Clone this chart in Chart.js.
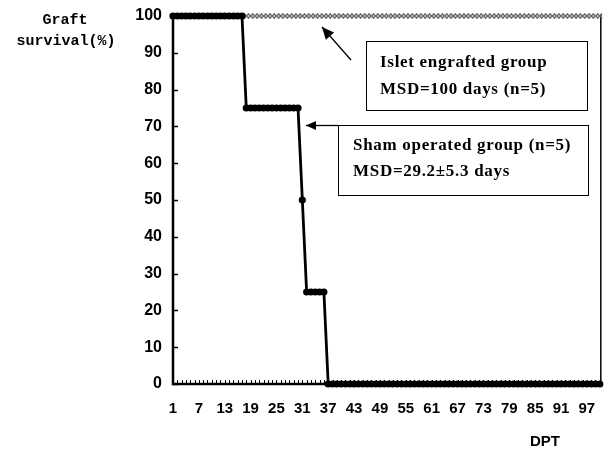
<!DOCTYPE html>
<html>
<head>
<meta charset="utf-8">
<script src="https://cdn.jsdelivr.net/npm/chart.js@4/dist/chart.umd.min.js"></script>
<style>
  html, body { margin: 0; padding: 0; background: #fff; }
  #wrap { width: 605px; height: 450px; position: relative; }
</style>
</head>
<body>
<div id="wrap"><canvas id="c" width="605" height="450"></canvas></div>
<script>
// Days post transplantation (DPT), 1..100
const days = [];
for (let d = 1; d <= 100; d++) days.push(d);

// Percent graft survival per day
const shamSurvival = [
  100,100,100,100,100,100,100,100,100,100,
  100,100,100,100,100,100,100, 75, 75, 75,
   75, 75, 75, 75, 75, 75, 75, 75, 75, 75,
   50, 25, 25, 25, 25, 25,  0,  0,  0,  0,
    0,  0,  0,  0,  0,  0,  0,  0,  0,  0,
    0,  0,  0,  0,  0,  0,  0,  0,  0,  0,
    0,  0,  0,  0,  0,  0,  0,  0,  0,  0,
    0,  0,  0,  0,  0,  0,  0,  0,  0,  0,
    0,  0,  0,  0,  0,  0,  0,  0,  0,  0,
    0,  0,  0,  0,  0,  0,  0,  0,  0,  0
];
const isletSurvival = [
  100,100,100,100,100,100,100,100,100,100,
  100,100,100,100,100,100,100,100,100,100,
  100,100,100,100,100,100,100,100,100,100,
  100,100,100,100,100,100,100,100,100,100,
  100,100,100,100,100,100,100,100,100,100,
  100,100,100,100,100,100,100,100,100,100,
  100,100,100,100,100,100,100,100,100,100,
  100,100,100,100,100,100,100,100,100,100,
  100,100,100,100,100,100,100,100,100,100,
  100,100,100,100,100,100,100,100,100,100
];

// Axis tick labels
const xTickLabels = [1, 7, 13, 19, 25, 31, 37, 43, 49, 55, 61, 67, 73, 79, 85, 91, 97];
const yTickLabels = [0, 10, 20, 30, 40, 50, 60, 70, 80, 90, 100];

const toPoints = vals => days.map((d, i) => ({ x: d, y: vals[i] }));

const serifBold = 'bold 17px "Liberation Serif", "DejaVu Serif", serif';

function arrow(ctx, x1, y1, x2, y2, L, W) {
  ctx.beginPath();
  ctx.moveTo(x1, y1);
  ctx.lineTo(x2, y2);
  ctx.stroke();
  const a = Math.atan2(y2 - y1, x2 - x1);
  ctx.beginPath();
  ctx.moveTo(x2, y2);
  ctx.lineTo(x2 - L * Math.cos(a) + W * Math.sin(a), y2 - L * Math.sin(a) - W * Math.cos(a));
  ctx.lineTo(x2 - L * Math.cos(a) - W * Math.sin(a), y2 - L * Math.sin(a) + W * Math.cos(a));
  ctx.closePath();
  ctx.fill();
}

const decorations = {
  id: 'decorations',
  beforeDatasetsDraw(chart) {
    const { ctx, chartArea: a, scales: { x, y } } = chart;
    ctx.save();
    ctx.strokeStyle = '#000';
    // inward ticks on the y axis
    ctx.lineWidth = 1.5;
    yTickLabels.forEach(v => {
      const py = Math.round(y.getPixelForValue(v)) + 0.5;
      ctx.beginPath(); ctx.moveTo(a.left, py); ctx.lineTo(a.left + 5, py); ctx.stroke();
    });
    // one small tick per day along the x axis
    ctx.lineWidth = 1;
    days.forEach(d => {
      const px = Math.round(x.getPixelForValue(d)) + 0.5;
      ctx.beginPath(); ctx.moveTo(px, a.bottom); ctx.lineTo(px, a.bottom - 4); ctx.stroke();
    });
    // axes and right border
    ctx.lineWidth = 2.5;
    ctx.beginPath();
    ctx.moveTo(a.left, a.top); ctx.lineTo(a.left, a.bottom); ctx.lineTo(a.right, a.bottom);
    ctx.stroke();
    ctx.lineWidth = 1.5;
    ctx.beginPath(); ctx.moveTo(a.right + 1, a.top - 2); ctx.lineTo(a.right + 1, a.bottom); ctx.stroke();
    ctx.restore();
  },
  afterDraw(chart) {
    const { ctx } = chart;
    ctx.save();
    // axis titles
    ctx.fillStyle = '#000';
    ctx.font = 'bold 15px "Liberation Mono", "DejaVu Sans Mono", monospace';
    ctx.textAlign = 'center';
    ctx.textBaseline = 'middle';
    ctx.fillText('Graft', 65, 20);
    ctx.fillText('survival(%)', 66, 41);
    ctx.font = 'bold 15px "Liberation Sans", Arial, sans-serif';
    ctx.fillText('DPT', 545, 442);

    // annotation boxes
    ctx.lineWidth = 1;
    ctx.strokeStyle = '#000';
    ctx.fillStyle = '#fff';
    ctx.fillRect(366, 41, 221, 69);
    ctx.strokeRect(366.5, 41.5, 221, 69);
    ctx.fillRect(338, 125, 250, 70);
    ctx.strokeRect(338.5, 125.5, 250, 70);

    ctx.fillStyle = '#000';
    ctx.font = serifBold;
    ctx.letterSpacing = '0.7px';
    ctx.textAlign = 'left';
    ctx.textBaseline = 'middle';
    ctx.fillText('Islet engrafted group', 380, 63);
    ctx.fillText('MSD=100 days (n=5)', 380, 90);
    ctx.fillText('Sham operated group (n=5)', 353, 146);
    ctx.fillText('MSD=29.2\u00b15.3 days', 353, 172);
    ctx.letterSpacing = '0px';

    // pointers
    ctx.lineWidth = 1.3;
    arrow(ctx, 351, 60, 322, 27, 12, 5.5);
    arrow(ctx, 338, 125.5, 306, 125.5, 10, 4.5);
    ctx.restore();
  }
};

new Chart(document.getElementById('c'), {
  type: 'line',
  data: {
    datasets: [
      {
        label: 'Sham operated group',
        data: toPoints(shamSurvival),
        borderColor: '#000',
        backgroundColor: '#000',
        borderWidth: 2.8,
        pointStyle: 'circle',
        pointRadius: 3.6,
        pointBorderWidth: 0,
        tension: 0,
        clip: 10,
        order: 0
      },
      {
        label: 'Islet engrafted group',
        data: toPoints(isletSurvival),
        borderColor: '#8a8a8a',
        backgroundColor: '#8a8a8a',
        borderWidth: 1,
        pointStyle: 'crossRot',
        pointRadius: 3.5,
        pointBorderColor: '#6a6a6a',
        pointBorderWidth: 1.2,
        tension: 0,
        clip: 10,
        order: 1
      }
    ]
  },
  options: {
    responsive: false,
    animation: false,
    events: [],
    layout: { padding: { top: 16, right: 4, left: 0, bottom: 0 } },
    plugins: { legend: { display: false }, tooltip: { enabled: false } },
    scales: {
      x: {
        type: 'linear',
        min: 1,
        max: 100,
        grid: { display: false, drawTicks: false },
        border: { display: false },
        afterBuildTicks: s => { s.ticks = xTickLabels.map(v => ({ value: v })); },
        afterFit: s => { s.height = 66; s.paddingLeft = 0; s.paddingRight = 0; },
        ticks: {
          autoSkip: false,
          maxRotation: 0,
          padding: 16,
          color: '#000',
          font: { family: '"Liberation Sans", Arial, sans-serif', size: 15, weight: 'bold' }
        }
      },
      y: {
        type: 'linear',
        min: 0,
        max: 100,
        grid: { display: false, drawTicks: false },
        border: { display: false },
        afterBuildTicks: s => { s.ticks = yTickLabels.map(v => ({ value: v })); },
        afterFit: s => { s.width = 173; s.paddingTop = 0; s.paddingBottom = 0; },
        ticks: {
          padding: 11,
          color: '#000',
          font: { family: '"Liberation Sans", Arial, sans-serif', size: 16, weight: 'bold' }
        }
      }
    }
  },
  plugins: [decorations]
});
</script>
</body>
</html>
